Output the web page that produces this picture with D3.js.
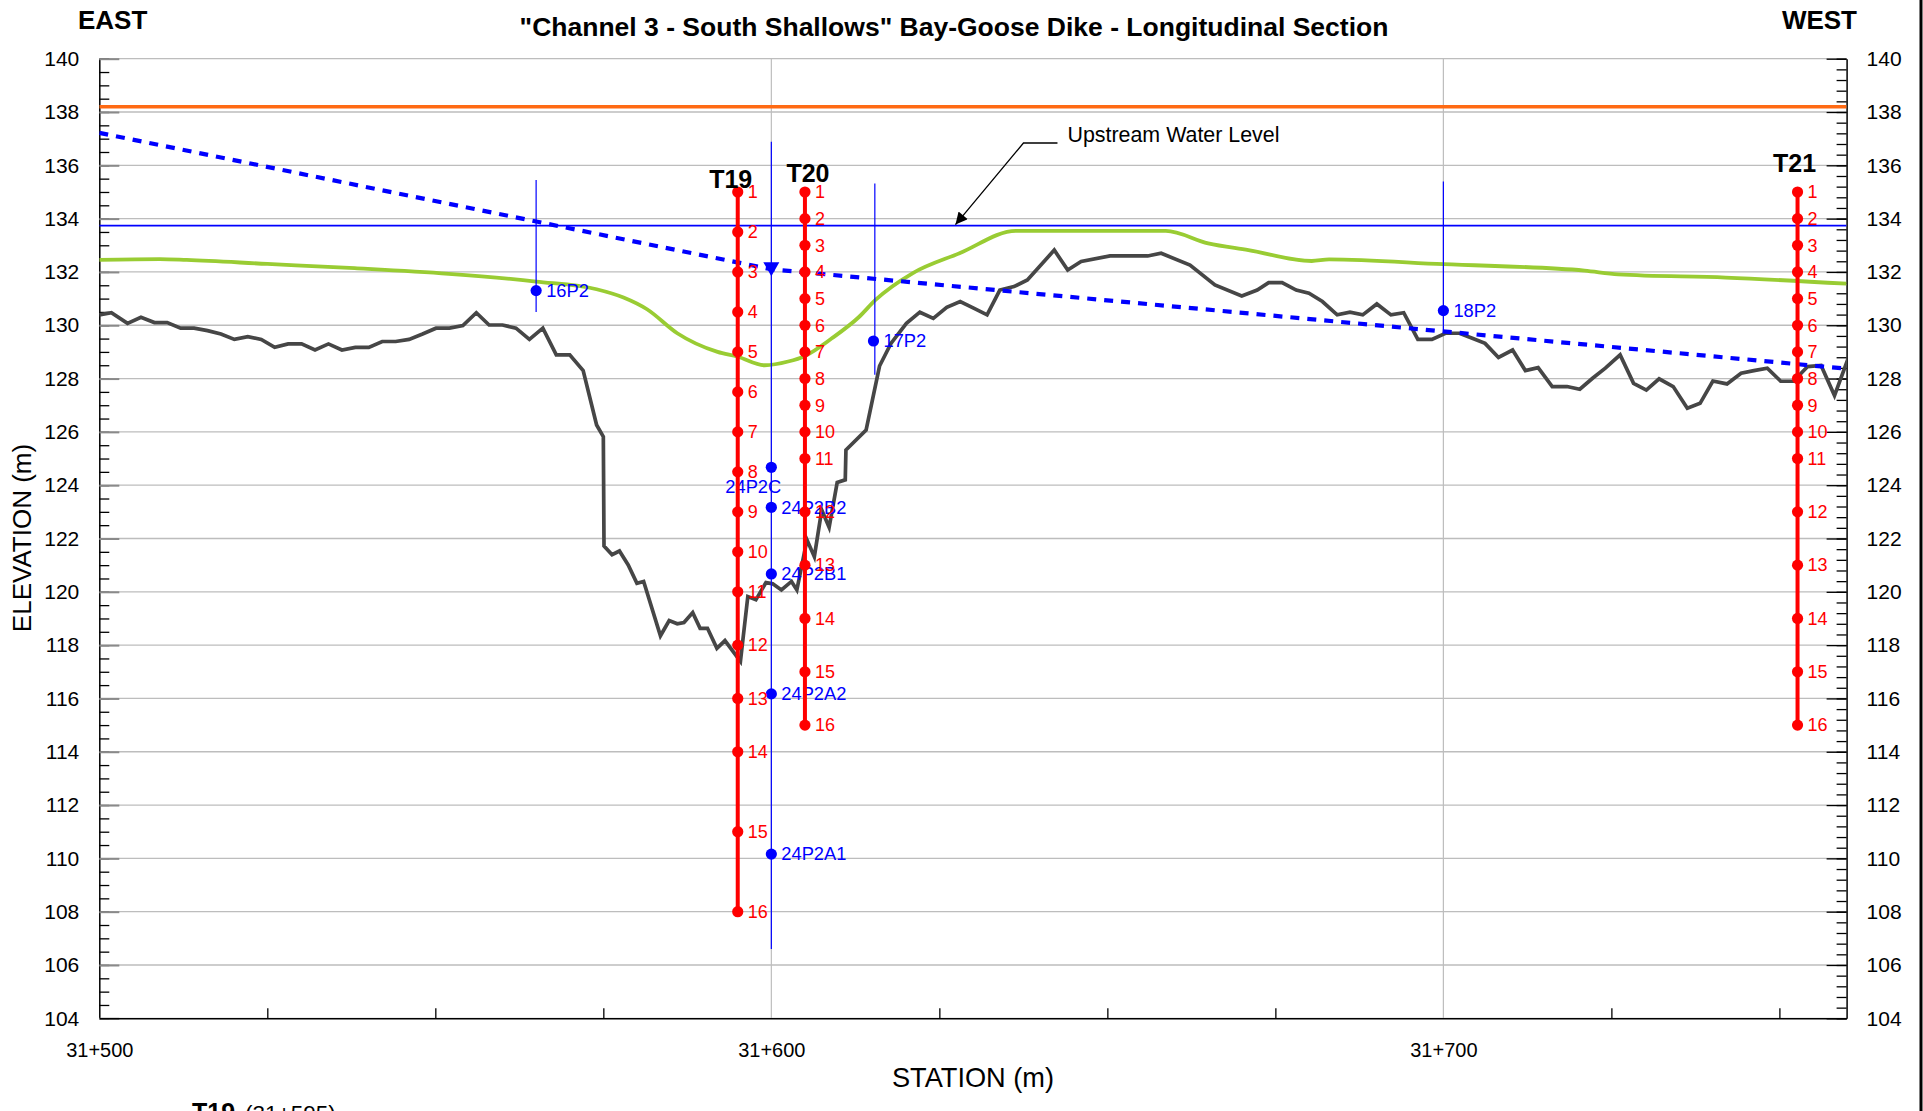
<!DOCTYPE html>
<html>
<head>
<meta charset="utf-8">
<script src="https://cdn.jsdelivr.net/npm/d3@7"></script>
<style>
  body { margin: 0; background: #fff; }
  svg { display: block; font-family: "Liberation Sans", Arial, sans-serif; }
</style>
</head>
<body>
<div id="chart"></div>
<script>

// ---- data ----
const stationDomain = [31500, 31760];
const elevationDomain = [104, 140];
const stationLabels = [31500, 31600, 31700];

const dikeCrestLevel = 138.2;      // orange line
const upstreamWaterLevel = 133.74; // thin blue line

// dashed blue line [station, elevation]
const phreaticLine = [[31500, 137.22], [31600, 132.1], [31760, 128.37]];
const waterMarker = [31600, 132.1];

// green line [station, elevation]
const greenProfile = [
  [31500, 132.45], [31509, 132.48], [31513, 132.45], [31525, 132.30], [31538, 132.14],
  [31552, 131.93], [31565, 131.64], [31574, 131.35], [31578, 131.04], [31581.5, 130.6],
  [31586, 129.7], [31592, 129.0], [31595, 128.82], [31599, 128.5], [31602.5, 128.64],
  [31605, 128.85], [31609, 129.51], [31613, 130.3], [31615.5, 130.95], [31621, 131.95],
  [31628, 132.7], [31636.4, 133.54], [31658.7, 133.54], [31665, 133.07], [31671, 132.82],
  [31680.4, 132.41], [31683, 132.47], [31700, 132.29], [31721, 132.05], [31726, 131.91],
  [31742, 131.79], [31760, 131.56]
];

// dark grey ground line [station, elevation]
const groundProfile = [
  [31500, 130.39], [31501.8, 130.47], [31504.2, 130.07], [31506.2, 130.3], [31508.2, 130.1],
  [31510.1, 130.1], [31512.1, 129.89], [31514.1, 129.89], [31516.1, 129.8], [31518.1, 129.67],
  [31520.1, 129.47], [31522.1, 129.57], [31524.1, 129.47], [31526.1, 129.17], [31528.1, 129.3],
  [31530.1, 129.3], [31532.1, 129.07], [31534.1, 129.3], [31536.1, 129.07], [31538.1, 129.17],
  [31540.1, 129.17], [31542.1, 129.39], [31544.1, 129.39], [31546.1, 129.47], [31548.1, 129.67],
  [31550.1, 129.89], [31552.1, 129.89], [31554.1, 129.99], [31556.1, 130.47], [31558, 130.01],
  [31560, 130.01], [31562, 129.89], [31564, 129.47], [31566, 129.89], [31568, 128.89],
  [31570, 128.89], [31572, 128.3], [31574, 126.26], [31575, 125.82], [31575.1, 121.72],
  [31576.3, 121.39], [31577.4, 121.53], [31578.7, 121.01], [31580, 120.32], [31581, 120.39],
  [31583.5, 118.35], [31584.8, 118.92], [31586, 118.8], [31587, 118.85], [31588.3, 119.22],
  [31589.4, 118.63], [31590.5, 118.63], [31591.9, 117.88], [31593.1, 118.17], [31595.4, 117.39],
  [31596.5, 119.82], [31597.7, 119.7], [31599.2, 120.35], [31600.2, 120.3], [31601.5, 120.07],
  [31603, 120.39], [31603.8, 120.07], [31605.3, 121.95], [31606.4, 121.32], [31607.5, 123.07],
  [31608.6, 122.42], [31609.8, 124.1], [31611, 124.2], [31611.1, 125.32], [31614.1, 126.07],
  [31616.1, 128.47], [31617.8, 129.32], [31620.1, 130.07], [31622.1, 130.49], [31624.1, 130.26],
  [31626.1, 130.67], [31628.1, 130.89], [31630.1, 130.64], [31632.1, 130.39], [31634, 131.32],
  [31636.1, 131.45], [31638.1, 131.7], [31642.1, 132.82], [31644.1, 132.07], [31646.1, 132.39],
  [31650.4, 132.6], [31656, 132.6], [31658, 132.7], [31662.3, 132.26], [31666, 131.51],
  [31670, 131.1], [31672.3, 131.32], [31674, 131.6], [31676, 131.6], [31678.1, 131.32],
  [31680, 131.2], [31682, 130.89], [31684.2, 130.39], [31686.1, 130.49], [31688, 130.39],
  [31690.1, 130.8], [31692.2, 130.39], [31694.1, 130.47], [31696.2, 129.47], [31698.3, 129.47],
  [31700.3, 129.7], [31702.4, 129.7], [31704.3, 129.51], [31706.2, 129.32], [31708.2, 128.79],
  [31710.3, 129.07], [31712.2, 128.3], [31714.1, 128.41], [31716.2, 127.7], [31718.4, 127.7],
  [31720.3, 127.6], [31722.2, 128.01], [31724.1, 128.39], [31726.3, 128.89], [31728.3, 127.82],
  [31730.2, 127.57], [31732.1, 127.99], [31734.2, 127.7], [31736.3, 126.89], [31738.2, 127.07],
  [31740.1, 127.91], [31742.2, 127.8], [31744.3, 128.2], [31746.2, 128.3], [31748.2, 128.39],
  [31750.2, 127.9], [31752.1, 127.9], [31754.2, 128.45], [31756.2, 128.49], [31758.2, 127.36],
  [31760.3, 128.8]
];

// thermistor strings
const thermistorNames = ["T19", "T20", "T21"];
const thermistorStations = [31595, 31605, 31752.7];
const t19Beads = [135, 133.5, 132, 130.5, 129, 127.5, 126, 124.5, 123, 121.5, 120, 118, 116, 114, 111, 108];
const t20Beads = [135, 134, 133, 132, 131, 130, 129, 128, 127, 126, 125, 123, 121, 119, 117, 115];
const t21Beads = [135, 134, 133, 132, 131, 130, 129, 128, 127, 126, 125, 123, 121, 119, 117, 115];

// piezometer pipes
const pipeStations = [31565, 31615.4, 31700, 31600];
const pipeTops = [135.45, 135.32, 135.39, 136.88];
const pipeBottoms = [130.5, 128.14, 129.7, 106.6];

// piezometer tips
const piezoNames = ["16P2", "17P2", "18P2", "24P2C", "24P2B2", "24P2B1", "24P2A2", "24P2A1"];
const piezoStations = [31565, 31615.2, 31700, 31600, 31600, 31600, 31600, 31600];
const piezoElevations = [131.3, 129.41, 130.55, 124.67, 123.17, 120.67, 116.17, 110.16];

const annotationText = "Upstream Water Level";
const annotationStation = 31627.4;

// ---- layout ----
const width = 1923, height = 1111;
const plot = { left: 99.3, right: 1846.6, top: 58.7, bottom: 1018.3 };
const colors = {
  grid: "#bdbdbd", orange: "#ff6a13", blue: "#0000ff", green: "#99cc33",
  ground: "#464646", red: "#ff0000"
};
// offsets of the T labels from the top bead, px
const thermistorLabelShift = [[-7, -4], [3, -10], [-3, -20]];

const x = d3.scaleLinear().domain(stationDomain).range([plot.left, plot.right]);
const y = d3.scaleLinear().domain(elevationDomain).range([plot.bottom, plot.top]);

const fmtStation = d => Math.floor(d / 1000) + "+" + String(d % 1000).padStart(3, "0");

const svg = d3.select("#chart").append("svg")
  .attr("width", width)
  .attr("height", height);

svg.append("rect").attr("width", width).attr("height", height).attr("fill", "#fff");

svg.append("defs").append("clipPath").attr("id", "plotclip")
  .append("rect")
  .attr("x", plot.left).attr("y", plot.top - 4)
  .attr("width", plot.right - plot.left).attr("height", plot.bottom - plot.top + 4);

svg.append("defs").append("marker")
  .attr("id", "arrow")
  .attr("viewBox", "0 0 10 10")
  .attr("refX", 10).attr("refY", 5)
  .attr("markerUnits", "userSpaceOnUse")
  .attr("markerWidth", 20).attr("markerHeight", 12)
  .attr("orient", "auto")
  .append("path").attr("d", "M0,0 L10,5 L0,10 Z").attr("fill", "#000");

// grid
const grid = svg.append("g");
grid.selectAll("line.h")
  .data(d3.range(104, 140.01, 2))
  .join("line")
  .attr("x1", plot.left).attr("x2", plot.right)
  .attr("y1", d => y(d)).attr("y2", d => y(d))
  .attr("stroke", colors.grid).attr("stroke-width", 1.3);
grid.selectAll("line.v")
  .data([31600, 31700])
  .join("line")
  .attr("x1", d => x(d)).attr("x2", d => x(d))
  .attr("y1", plot.top).attr("y2", plot.bottom)
  .attr("stroke", colors.grid).attr("stroke-width", 1.2);

// axes
const styleAxis = g => {
  g.select(".domain").attr("stroke", "#000").attr("stroke-width", 1.5);
  g.selectAll(".tick line").attr("stroke", "#000").attr("stroke-width", 1.3);
  g.selectAll("text").attr("fill", "#000").attr("font-size", "21px")
    .attr("font-family", "Liberation Sans, Arial, sans-serif");
};

svg.append("g")
  .attr("transform", `translate(${plot.left},0)`)
  .call(d3.axisLeft(y).tickValues(d3.range(104, 140.01, 0.5)).tickSizeInner(-10).tickSizeOuter(0).tickFormat(""))
  .call(styleAxis);
svg.append("g")
  .attr("transform", `translate(${plot.left},0)`)
  .call(d3.axisLeft(y).tickValues(d3.range(104, 140.01, 2)).tickSizeInner(-20).tickSizeOuter(0).tickPadding(20))
  .call(styleAxis)
  .call(g => g.selectAll(".tick line").attr("stroke", "#8a8a8a").attr("stroke-width", 2))
  .call(g => g.select(".domain").remove());

svg.append("g")
  .attr("transform", `translate(${plot.right},0)`)
  .call(d3.axisRight(y).tickValues(d3.range(104, 140.01, 0.4)).tickSizeInner(-10).tickSizeOuter(0).tickFormat(""))
  .call(styleAxis);
svg.append("g")
  .attr("transform", `translate(${plot.right},0)`)
  .call(d3.axisRight(y).tickValues(d3.range(104, 140.01, 2)).tickSizeInner(-20).tickSizeOuter(0).tickPadding(20))
  .call(styleAxis)
  .call(g => g.select(".domain").remove());

svg.append("g")
  .attr("transform", `translate(0,${plot.bottom})`)
  .call(d3.axisBottom(x).tickValues(d3.range(31525, 31760, 25).filter(d => d % 100 !== 0))
    .tickSizeInner(-10).tickSizeOuter(0).tickFormat(""))
  .call(styleAxis);
svg.append("g")
  .attr("transform", `translate(0,${plot.bottom})`)
  .call(d3.axisBottom(x).tickValues(stationLabels).tickSize(0).tickPadding(25).tickFormat(fmtStation))
  .call(styleAxis)
  .call(g => g.select(".domain").remove())
  .call(g => g.selectAll("text").attr("font-size", "20px"));

// lines inside the plot
const body = svg.append("g").attr("clip-path", "url(#plotclip)");
const line = d3.line().x(d => x(d[0])).y(d => y(d[1]));

body.append("line")
  .attr("x1", plot.left).attr("x2", plot.right)
  .attr("y1", y(dikeCrestLevel)).attr("y2", y(dikeCrestLevel))
  .attr("stroke", colors.orange).attr("stroke-width", 3.6);

body.append("line")
  .attr("x1", plot.left).attr("x2", plot.right)
  .attr("y1", y(upstreamWaterLevel)).attr("y2", y(upstreamWaterLevel))
  .attr("stroke", colors.blue).attr("stroke-width", 1.8);

body.append("path")
  .datum(greenProfile)
  .attr("d", line.curve(d3.curveMonotoneX))
  .attr("fill", "none").attr("stroke", colors.green).attr("stroke-width", 3.8)
  .attr("stroke-linejoin", "round");
line.curve(d3.curveLinear);

body.append("path")
  .datum(groundProfile)
  .attr("d", line)
  .attr("fill", "none").attr("stroke", colors.ground).attr("stroke-width", 3.7)
  .attr("stroke-linejoin", "miter");

body.append("path")
  .datum(phreaticLine)
  .attr("d", line)
  .attr("fill", "none").attr("stroke", colors.blue).attr("stroke-width", 4.2)
  .attr("stroke-dasharray", "9,8");

// water marker
const wx = x(waterMarker[0]), wy = y(waterMarker[1]);
body.append("path")
  .attr("d", `M${wx - 8},${wy - 7} L${wx + 8},${wy - 7} L${wx},${wy + 7} Z`)
  .attr("fill", colors.blue);

// piezometers
const pipes = svg.append("g");
pipes.selectAll("line")
  .data(pipeStations)
  .join("line")
  .attr("x1", d => x(d)).attr("x2", d => x(d))
  .attr("y1", (d, i) => y(pipeTops[i])).attr("y2", (d, i) => y(pipeBottoms[i]))
  .attr("stroke", colors.blue).attr("stroke-width", 1.2);

const tips = pipes.selectAll("g.tip")
  .data(piezoNames)
  .join("g")
  .attr("transform", (d, i) => `translate(${x(piezoStations[i])},${y(piezoElevations[i])})`);
tips.append("circle").attr("r", 5.6).attr("fill", colors.blue);
tips.append("text")
  .attr("x", d => d === "24P2C" ? -46 : 10)
  .attr("y", d => d === "24P2C" ? 26 : 0)
  .attr("dy", d => d === "24P2C" ? 0 : "0.34em")
  .attr("fill", colors.blue).attr("font-size", "18.3px")
  .text(d => d);

// thermistors
const beadSets = [t19Beads, t20Beads, t21Beads];
const strings = svg.selectAll("g.string")
  .data(thermistorNames)
  .join("g")
  .attr("transform", (d, i) => `translate(${x(thermistorStations[i])},0)`);

strings.append("line")
  .attr("y1", (d, i) => y(d3.max(beadSets[i])))
  .attr("y2", (d, i) => y(d3.min(beadSets[i])))
  .attr("stroke", colors.red).attr("stroke-width", 4);

strings.each(function (name, i) {
  const g = d3.select(this);
  const beads = g.selectAll("g.bead")
    .data(beadSets[i])
    .join("g")
    .attr("transform", d => `translate(0,${y(d)})`);
  beads.append("circle").attr("r", 5.6).attr("fill", colors.red);
  beads.append("text")
    .attr("x", 10).attr("dy", "0.35em")
    .attr("fill", colors.red).attr("font-size", "18px")
    .text((d, k) => k + 1);
  g.append("text")
    .attr("x", thermistorLabelShift[i][0])
    .attr("y", y(d3.max(beadSets[i])) + thermistorLabelShift[i][1])
    .attr("text-anchor", "middle")
    .attr("font-weight", "bold").attr("font-size", "25px")
    .text(name);
});

// annotation with arrow
const ax = x(annotationStation), ay = y(upstreamWaterLevel);
svg.append("polyline")
  .attr("points", `${ax + 102},143 ${ax + 68},143 ${ax},${ay - 1}`)
  .attr("fill", "none").attr("stroke", "#000").attr("stroke-width", 1.3)
  .attr("marker-end", "url(#arrow)");
svg.append("text")
  .attr("x", ax + 112).attr("y", 142)
  .attr("font-size", "21.4px")
  .text(annotationText);

// titles
svg.append("text")
  .attr("x", 954).attr("y", 36)
  .attr("text-anchor", "middle")
  .attr("font-weight", "bold").attr("font-size", "26.5px")
  .text('"Channel 3 - South Shallows" Bay-Goose Dike - Longitudinal Section');
svg.append("text")
  .attr("x", 78).attr("y", 29)
  .attr("font-weight", "bold").attr("font-size", "26px")
  .text("EAST");
svg.append("text")
  .attr("x", 1857).attr("y", 29)
  .attr("text-anchor", "end")
  .attr("font-weight", "bold").attr("font-size", "26px")
  .text("WEST");
svg.append("text")
  .attr("transform", "translate(31,538) rotate(-90)")
  .attr("text-anchor", "middle")
  .attr("font-size", "26px")
  .text("ELEVATION (m)");
svg.append("text")
  .attr("x", 973).attr("y", 1087)
  .attr("text-anchor", "middle")
  .attr("font-size", "27.2px")
  .text("STATION (m)");

// caption cut off at the bottom edge
const caption = svg.append("text").attr("x", 192).attr("y", 1121);
caption.append("tspan").attr("font-weight", "bold").attr("font-size", "25px").text(thermistorNames[0]);
caption.append("tspan").attr("font-size", "22.5px").attr("dx", 10)
  .text(`(${fmtStation(thermistorStations[0])})`);

// right border of the sheet
svg.append("line")
  .attr("x1", 1921).attr("x2", 1921).attr("y1", 0).attr("y2", height)
  .attr("stroke", "#000").attr("stroke-width", 3);

</script>
</body>
</html>
